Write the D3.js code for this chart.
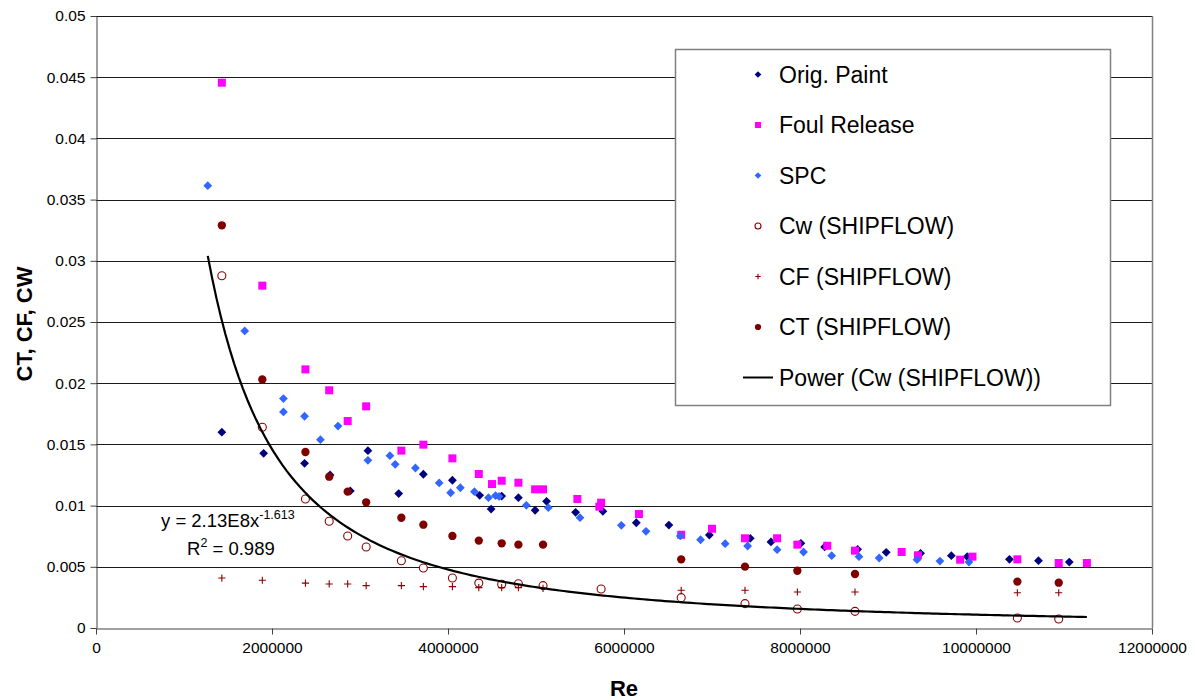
<!DOCTYPE html>
<html>
<head>
<meta charset="utf-8">
<script src="https://cdn.jsdelivr.net/npm/d3@7"></script>
<style>
  body { margin: 0; background: #fff; }
  text { font-family: "Liberation Sans", Arial, sans-serif; }
</style>
</head>
<body>
<div id="vis"></div>
<script>
const FRAME_WIDTH = 1194;
const FRAME_HEIGHT = 700;
const MARGINS = { left: 96, right: 42, top: 16, bottom: 72 };

const VIS_WIDTH = FRAME_WIDTH - MARGINS.left - MARGINS.right;
const VIS_HEIGHT = FRAME_HEIGHT - MARGINS.top - MARGINS.bottom;

// Re values in millions, coefficients
const origRe = [1.43, 1.905, 2.37, 2.66, 2.89, 3.09, 3.44, 3.72, 4.05, 4.36, 4.49, 4.61, 4.80, 4.99, 5.12, 5.45, 5.76, 6.14, 6.51, 6.97, 7.435, 7.67, 8.01, 8.28, 8.655, 8.98, 9.37, 9.72, 9.90, 10.38, 10.71, 11.06];
const origC = [0.0160, 0.01427, 0.01345, 0.0125, 0.0112, 0.01449, 0.01098, 0.01256, 0.01207, 0.01084, 0.00972, 0.01078, 0.01065, 0.00962, 0.01035, 0.00945, 0.00953, 0.0086, 0.00841, 0.0076, 0.00733, 0.00703, 0.00692, 0.00662, 0.00643, 0.00618, 0.0061, 0.00591, 0.00583, 0.00561, 0.0055, 0.00539];

const foulRe = [1.43, 1.89, 2.38, 2.65, 2.86, 3.07, 3.47, 3.72, 4.05, 4.35, 4.50, 4.61, 4.80, 4.99, 5.08, 5.47, 5.74, 5.72, 6.17, 6.65, 7.0, 7.375, 7.74, 7.97, 8.31, 8.625, 9.155, 9.34, 9.82, 9.96, 10.47, 10.94, 11.26];
const foulC = [0.04455, 0.02797, 0.02113, 0.01942, 0.01691, 0.01811, 0.01449, 0.01498, 0.01386, 0.01258, 0.01176, 0.01203, 0.01187, 0.01133, 0.01133, 0.01054, 0.01024, 0.00991, 0.00931, 0.00762, 0.00811, 0.00733, 0.00733, 0.00681, 0.00672, 0.00632, 0.00621, 0.00594, 0.00558, 0.00583, 0.00561, 0.00531, 0.00531];

const spcRe = [1.27, 1.69, 2.13, 2.13, 2.37, 2.55, 2.75, 3.09, 3.34, 3.40, 3.63, 3.90, 4.03, 4.14, 4.30, 4.46, 4.54, 4.58, 4.89, 5.14, 5.50, 5.97, 6.25, 6.64, 6.87, 7.15, 7.405, 7.74, 8.04, 8.36, 8.67, 8.90, 9.33, 9.59, 9.92];
const spcC = [0.03614, 0.02427, 0.01874, 0.01765, 0.0173, 0.01539, 0.0165, 0.0137, 0.01408, 0.01337, 0.01307, 0.01185, 0.01105, 0.01146, 0.01114, 0.01065, 0.01081, 0.01075, 0.01002, 0.00983, 0.00901, 0.00839, 0.0079, 0.00752, 0.00721, 0.00689, 0.0067, 0.0064, 0.00621, 0.00591, 0.00583, 0.00572, 0.00558, 0.00547, 0.00539];

const cwRe = [1.43, 1.89, 2.38, 2.65, 2.86, 3.07, 3.47, 3.72, 4.05, 4.35, 4.61, 4.80, 5.08, 5.74, 6.65, 7.375, 7.97, 8.625, 10.47, 10.94];
const cwC = [0.02878, 0.0164, 0.01054, 0.00872, 0.00752, 0.00662, 0.0055, 0.0049, 0.00408, 0.00367, 0.00357, 0.00362, 0.00346, 0.00319, 0.00248, 0.00199, 0.00155, 0.00136, 0.00082, 0.00074];

const shipRe = [1.43, 1.89, 2.38, 2.65, 2.86, 3.07, 3.47, 3.72, 4.05, 4.35, 4.61, 4.80, 5.08, 6.65, 7.375, 7.97, 8.625, 10.47, 10.94];
const cfC = [0.00408, 0.0039, 0.00367, 0.0036, 0.0036, 0.00346, 0.00346, 0.00338, 0.00338, 0.0033, 0.0033, 0.0033, 0.00324, 0.00308, 0.00308, 0.00294, 0.00294, 0.00288, 0.00288];
const ctC = [0.0329, 0.0203, 0.01438, 0.01236, 0.01114, 0.01027, 0.00901, 0.00844, 0.00752, 0.00714, 0.00692, 0.00681, 0.00681, 0.00561, 0.00501, 0.00468, 0.00441, 0.00379, 0.0037];

// power trendline from the chart label: y = 2.13E8 x^-1.613
const TREND_A = 2.13e8;
const TREND_B = -1.613;

const xTicks = [0, 2000000, 4000000, 6000000, 8000000, 10000000, 12000000];
const yTicks = [0, 0.005, 0.01, 0.015, 0.02, 0.025, 0.03, 0.035, 0.04, 0.045, 0.05];

const series = [
    { name: "Orig. Paint", re: origRe, c: origC, shape: "diamond", color: "#000080" },
    { name: "Foul Release", re: foulRe, c: foulC, shape: "square", color: "#ff00ff" },
    { name: "SPC", re: spcRe, c: spcC, shape: "diamond", color: "#3366ff" },
    { name: "Cw (SHIPFLOW)", re: cwRe, c: cwC, shape: "open", color: "#8b0000" },
    { name: "CF (SHIPFLOW)", re: shipRe, c: cfC, shape: "plus", color: "#8b0000" },
    { name: "CT (SHIPFLOW)", re: shipRe, c: ctC, shape: "circle", color: "#800000" }
];

const FRAME = d3.select("#vis")
    .append("svg")
    .attr("width", FRAME_WIDTH)
    .attr("height", FRAME_HEIGHT);

const X_SCALE = d3.scaleLinear()
    .domain([0, 12000000])
    .range([MARGINS.left, MARGINS.left + VIS_WIDTH]);

const Y_SCALE = d3.scaleLinear()
    .domain([0, 0.05])
    .range([MARGINS.top + VIS_HEIGHT, MARGINS.top]);

// gridlines
FRAME.append("g")
    .selectAll("line")
    .data(yTicks.slice(1))
    .enter()
    .append("line")
    .attr("x1", MARGINS.left)
    .attr("x2", MARGINS.left + VIS_WIDTH)
    .attr("y1", (d) => Math.round(Y_SCALE(d)) + 0.5)
    .attr("y2", (d) => Math.round(Y_SCALE(d)) + 0.5)
    .attr("stroke", "#1a1a1a")
    .attr("stroke-width", 1);

// right border of plot area
FRAME.append("line")
    .attr("x1", MARGINS.left + VIS_WIDTH + 0.5)
    .attr("x2", MARGINS.left + VIS_WIDTH + 0.5)
    .attr("y1", MARGINS.top)
    .attr("y2", MARGINS.top + VIS_HEIGHT)
    .attr("stroke", "#808080")
    .attr("stroke-width", 1.5);

// axes
const xAxis = FRAME.append("g")
    .attr("transform", "translate(0," + (MARGINS.top + VIS_HEIGHT + 0.5) + ")")
    .call(d3.axisBottom(X_SCALE).tickValues(xTicks).tickSize(6).tickSizeOuter(0).tickPadding(7)
        .tickFormat(d3.format("d")));

const yAxis = FRAME.append("g")
    .attr("transform", "translate(" + (MARGINS.left + 0.5) + ",0)")
    .call(d3.axisLeft(Y_SCALE).tickValues(yTicks).tickSize(6).tickSizeOuter(0).tickPadding(5)
        .tickFormat((d) => d === 0 ? "0" : String(+d.toFixed(3))));

[xAxis, yAxis].forEach((ax) => {
    ax.selectAll("path, line").attr("stroke", "#404040");
    ax.selectAll("text").attr("font-size", "15.5px").attr("fill", "#000")
        .style("font-family", "'Liberation Sans', Arial, sans-serif");
});

// marker drawing
function drawMarker(sel, s, size) {
    if (s.shape === "open") {
        sel.append("circle").attr("r", size * 0.5)
            .attr("fill", "#fff").attr("stroke", s.color).attr("stroke-width", 1.1);
    } else if (s.shape === "plus") {
        const h = size * 0.45;
        sel.append("path").attr("d", "M" + (-h) + ",0H" + h + "M0," + (-h) + "V" + h)
            .attr("stroke", s.color).attr("stroke-width", 1.1).attr("fill", "none");
    } else if (s.shape === "circle") {
        sel.append("circle").attr("r", size * 0.52).attr("fill", s.color);
    } else if (s.shape === "square") {
        sel.append("rect").attr("x", -size * 0.5).attr("y", -size * 0.5)
            .attr("width", size).attr("height", size).attr("fill", s.color);
    } else {
        const h = size * 0.55;
        sel.append("path").attr("d", "M0," + (-h) + "L" + h + ",0L0," + h + "L" + (-h) + ",0Z")
            .attr("fill", s.color);
    }
}

series.forEach((s) => {
    const pts = s.re.map((r, i) => ({ x: r * 1e6, y: s.c[i] }));
    FRAME.append("g")
        .selectAll("g")
        .data(pts)
        .enter()
        .append("g")
        .attr("transform", (d) => "translate(" + X_SCALE(d.x) + "," + Y_SCALE(d.y) + ")")
        .each(function () { drawMarker(d3.select(this), s, 8); });
});

// trendline over the data range
const allRe = [].concat(origRe, foulRe, spcRe, cwRe, shipRe);
const reExt = d3.extent(allRe).map((d) => d * 1e6);
const trendX = d3.range(0, 201).map((i) => reExt[0] + (reExt[1] - reExt[0]) * i / 200);
const line = d3.line()
    .x((d) => X_SCALE(d))
    .y((d) => Y_SCALE(TREND_A * Math.pow(d, TREND_B)));

FRAME.append("path")
    .datum(trendX)
    .attr("d", line)
    .attr("fill", "none")
    .attr("stroke", "#000")
    .attr("stroke-width", 2.2);

// trendline equation
const eq = FRAME.append("text")
    .attr("x", 161)
    .attr("y", 527)
    .attr("font-size", "18.5px");
eq.append("tspan").text("y = 2.13E8x");
eq.append("tspan").attr("dy", -8).attr("font-size", "12.5px").text("-1.613");

const r2 = FRAME.append("text")
    .attr("x", 187)
    .attr("y", 555)
    .attr("font-size", "18.5px");
r2.append("tspan").text("R");
r2.append("tspan").attr("dy", -8).attr("font-size", "12.5px").text("2");
r2.append("tspan").attr("dy", 8).text(" = 0.989");

// axis titles
FRAME.append("text")
    .attr("transform", "translate(32," + 324 + ") rotate(-90)")
    .attr("text-anchor", "middle")
    .attr("font-size", "22px")
    .attr("font-weight", "bold")
    .text("CT, CF, CW");

FRAME.append("text")
    .attr("x", 624)
    .attr("y", 696)
    .attr("text-anchor", "middle")
    .attr("font-size", "22px")
    .attr("font-weight", "bold")
    .text("Re");

// legend
const LEGEND = FRAME.append("g");
LEGEND.append("rect")
    .attr("x", 675.5)
    .attr("y", 49.5)
    .attr("width", 435)
    .attr("height", 356)
    .attr("fill", "#fff")
    .attr("stroke", "#808080")
    .attr("stroke-width", 1.5);

const legendItems = series.map((s) => s).concat([{ name: "Power (Cw (SHIPFLOW))", shape: "line", color: "#000" }]);

const item = LEGEND.selectAll(".item")
    .data(legendItems)
    .enter()
    .append("g")
    .attr("transform", (d, i) => "translate(758," + (74.5 + i * 50.5) + ")");

item.each(function (d) {
    const g = d3.select(this);
    if (d.shape === "line") {
        g.append("line").attr("x1", -15).attr("x2", 15).attr("stroke", "#000").attr("stroke-width", 2);
    } else {
        drawMarker(g, d, 6);
    }
});

item.append("text")
    .attr("x", 21)
    .attr("y", 8)
    .attr("font-size", "23px")
    .text((d) => d.name);
</script>
